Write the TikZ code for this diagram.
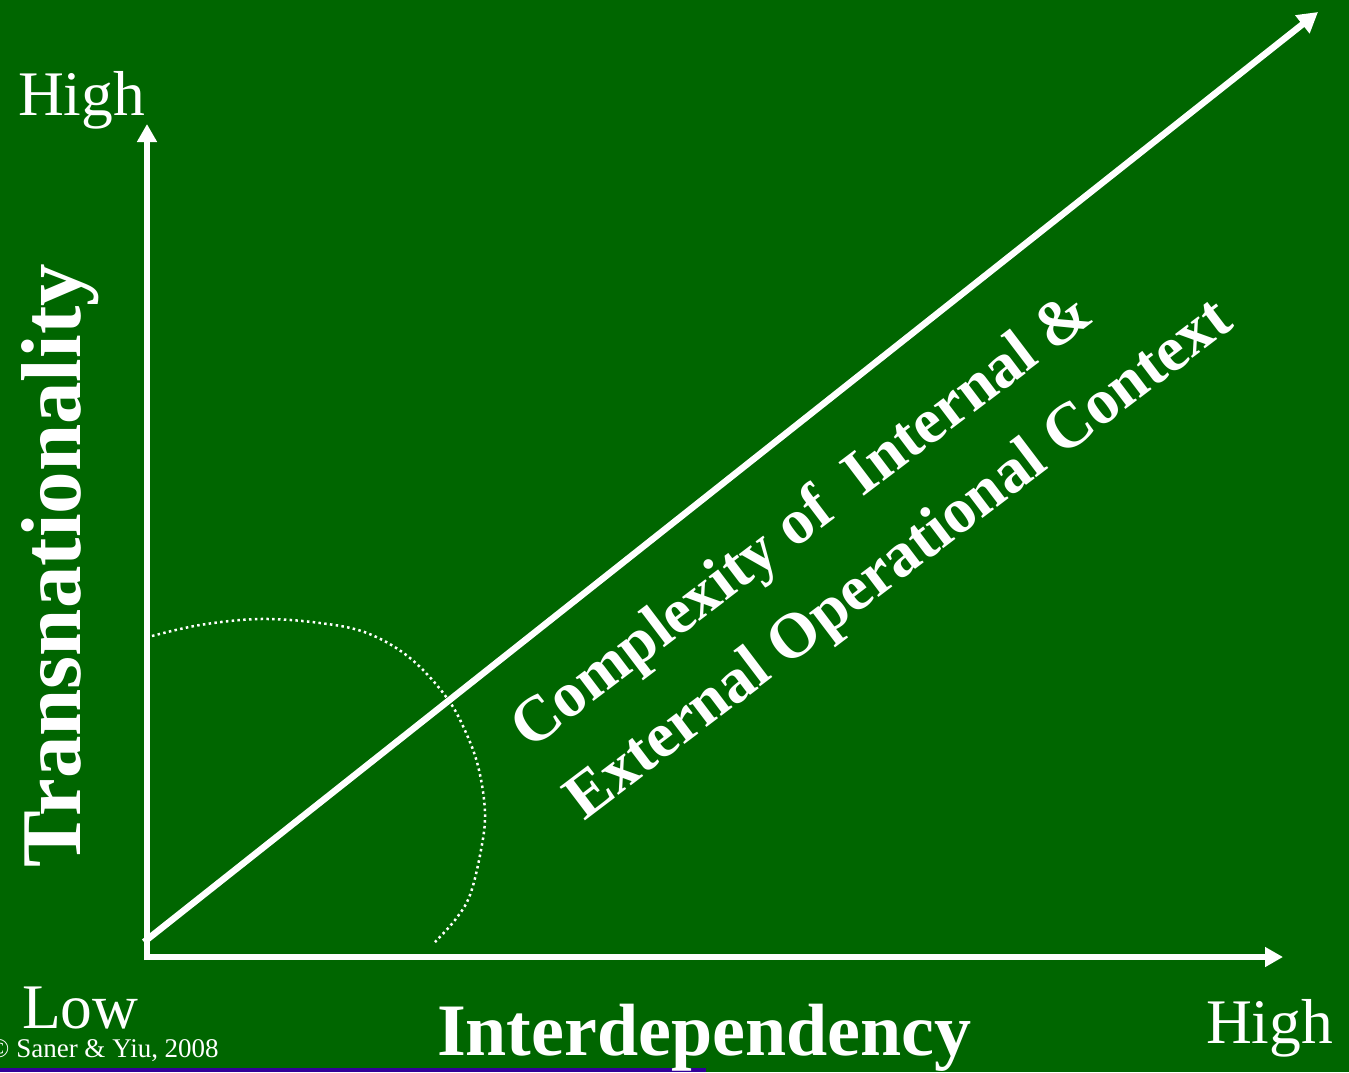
\documentclass[tikz,border=0pt]{standalone}
\usepackage{fontspec}
\setmainfont{Liberation Serif}
\usetikzlibrary{arrows.meta}
\definecolor{bggreen}{RGB}{0,102,0}
\definecolor{barpurple}{RGB}{51,0,153}
\begin{document}
\begin{tikzpicture}[x=1pt,y=-1pt,
  axisline/.style={draw=white,line width=5.5pt,-{Triangle[length=18pt,width=19pt]}},
  diagline/.style={draw=white,line width=6.5pt,-{Triangle[length=20pt,width=22pt]}},
  dotline/.style={draw=white,line width=2.5pt,dash pattern=on 2.5pt off 3.3pt},
  lbl/.style={text=white,inner sep=0pt,outer sep=0pt,anchor=base west},
  bigfont/.style={font=\fontsize{63.5}{70}\selectfont},
  boldfont/.style={font=\bfseries\fontsize{64}{70}\selectfont}]
\useasboundingbox (0,0) rectangle (1349,1072);
\fill[bggreen] (0,0) rectangle (1349,1072);
\fill[barpurple] (0,1068) rectangle (706,1072);

% axes
\coordinate (ytip) at (147,124);
\coordinate (xtip) at (1283,957);
\coordinate (ybase) at (147,960);
\coordinate (xbase) at (144,957);
\coordinate (dstart) at (144,942);
\coordinate (dtip) at (1318,12);
\draw[axisline] (ybase) -- (ytip);
\draw[axisline] (xbase) -- (xtip);
\draw[diagline] (dstart) -- (dtip);

% dotted curve
\draw[dotline] plot[smooth,tension=0.6] coordinates {(152,636) (200,625) (260,619) (320,623) (367,633) (410,658) (447,698) (467,735) (479,770) (485,813) (481,850) (470,895) (455,920) (435,942)};

% labels
\node[lbl,bigfont] (hightop) at (18,115) {High};
\node[lbl,bigfont] (highright) at (1206,1043) {High};
\node[lbl,bigfont] (low) at (22,1028) {Low};
\node[lbl,font=\fontsize{27}{30}\selectfont] (copy) at (-11,1057) {© Saner \& Yiu, 2008};
\node[lbl,font=\bfseries\fontsize{74}{80}\selectfont] (xlabel) at (437,1055) {Interdependency};
\node[lbl,font=\bfseries\fontsize{85}{90}\selectfont,rotate=90] (ylabel) at (80,867) {Transnationality};
\node[lbl,boldfont,rotate=37.2] (diag1) at (530,750) {Complexity of\ \ Internal \&};
\node[lbl,boldfont,rotate=37.2] (diag2) at (584,821) {External Operational Context};
\end{tikzpicture}
\end{document}
